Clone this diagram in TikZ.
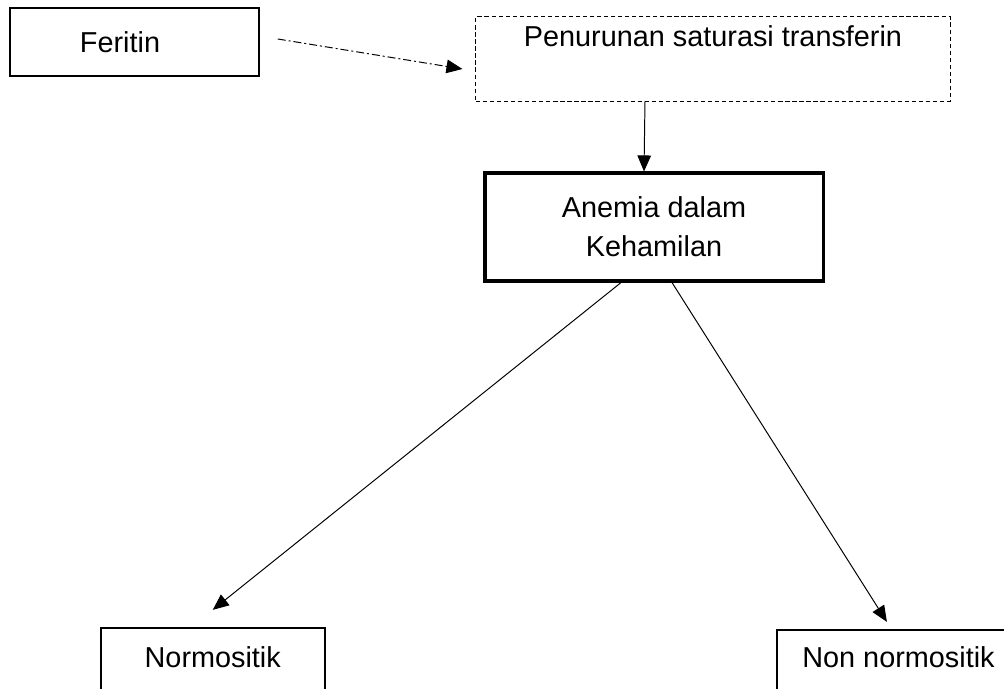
\documentclass[tikz,border=0pt]{standalone}
\usepackage{fontspec}
\setmainfont{Liberation Sans}
\usetikzlibrary{arrows.meta}
\tikzset{
  block/.style = {draw, line width=1pt, inner sep=0pt, font=\fontsize{20.5}{27.5}\selectfont},
  heavy block/.style = {block, line width=2.2pt},
  dash block/.style = {block, line width=0.7pt, dash pattern=on 3pt off 2pt},
  link/.style = {-{Triangle[length=0.4cm,width=0.34cm]}, line width=0.7pt}
}
\begin{document}
\begin{tikzpicture}[x=0.025cm, y=-0.025cm]
\useasboundingbox (0,0) rectangle (1004,689);
\clip (0,0) rectangle (1004,689);
\node[block, text width=2.725cm, inner xsep=1.75cm, minimum height=1.7cm, align=left] (feritin) at (134.5,42) {Feritin};
\node[dash block, minimum width=11.85cm, text height=0.735cm, text depth=1.365cm] (sat) at (713,59) {Penurunan saturasi transferin};
\node[heavy block, minimum width=8.45cm, minimum height=2.7cm, align=center] (anemia) at (654,227) {Anemia dalam\\Kehamilan};
\node[block, line width=1.6pt, minimum width=5.6cm, text height=0.975cm, text depth=0.95cm] (normo) at (212.75,666.5) {Normositik};
\node[block, line width=1.6pt, minimum width=6.075cm, text height=0.925cm, text depth=0.95cm] (nonnormo) at (898.5,667.5) {Non normositik};
% ujung panah yang bebas
\coordinate (fer out) at ([xshift=0.45cm, yshift=0.075cm]feritin.east);
\coordinate (sat in) at ([xshift=-0.325cm, yshift=-0.25cm]sat.west);
\draw[link, dash pattern=on 5.7pt off 2.1pt on 1.4pt off 2.1pt] (fer out) -- (sat in);
\draw[link] ([xshift=-1.7cm]sat.south) -- ([xshift=-0.25cm]anemia.north);
\draw[link] ([xshift=-0.825cm]anemia.south) -- ([yshift=0.425cm]normo.north);
\draw[link] ([xshift=0.45cm]anemia.south) -- ([xshift=-0.29cm, yshift=0.175cm]nonnormo.north);
\end{tikzpicture}
\end{document}
